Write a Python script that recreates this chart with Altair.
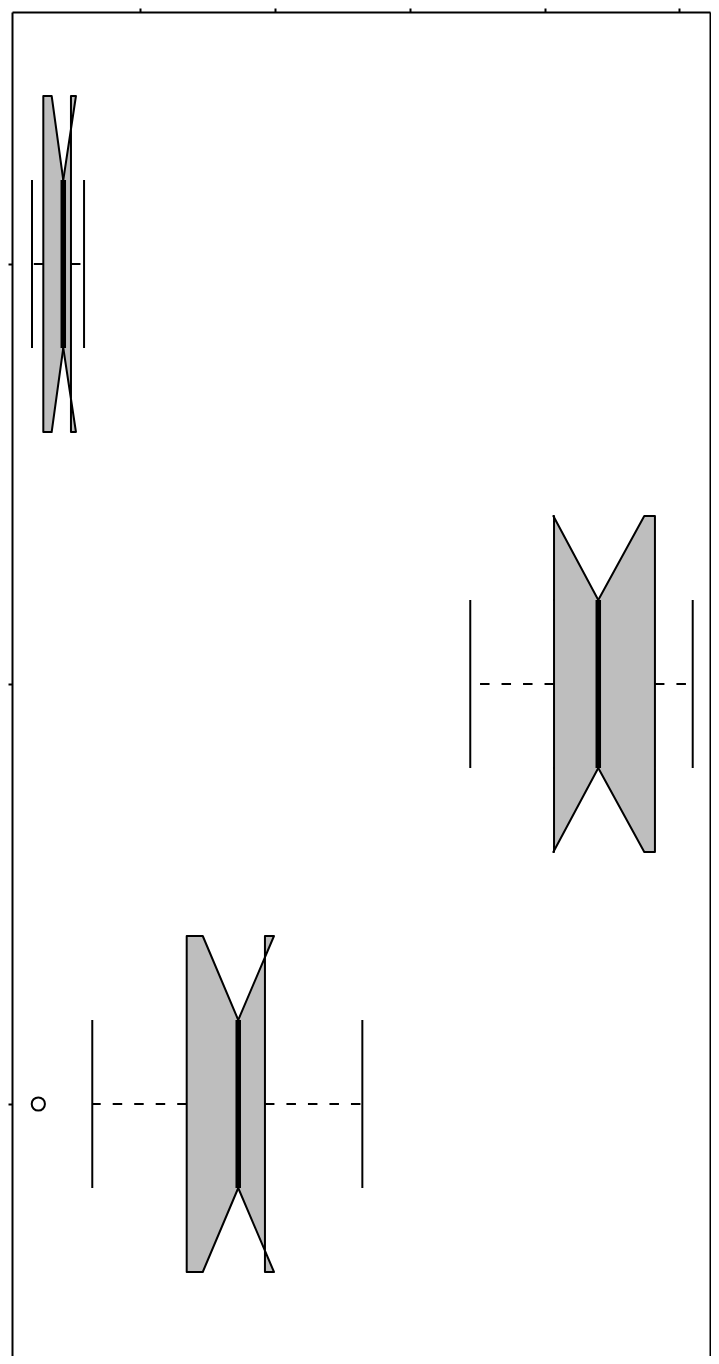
import altair as alt
import pandas as pd

# ---- data (value units match the top-axis ticks) ----
group_pos = [1, 2, 3]                      # top to bottom
whisker_lo = [2.00, 34.49, 6.47]
box_q1 = [2.84, 40.70, 13.47]
notch_lo = [3.46, 40.65, 14.66]
median = [4.32, 43.98, 17.29]
notch_hi = [5.26, 47.39, 19.94]
box_q3 = [4.89, 48.18, 19.27]
whisker_hi = [5.86, 50.98, 26.49]
outlier_group = [3]
outlier_value = [2.47]
x_ticks = [10, 20, 30, 40, 50]

BOX_HALF = 0.4
NOTCH_HALF = 0.2
STAPLE_HALF = 0.2

# ---- tables built from the arrays ----
poly_rows, whisk_rows, staple_rows, med_rows = [], [], [], []
for i, p in enumerate(group_pos):
    ys = [p - BOX_HALF, p - NOTCH_HALF, p + NOTCH_HALF, p + BOX_HALF]
    left_x = [notch_lo[i], median[i], median[i], notch_lo[i]]
    right_x = [notch_hi[i], median[i], median[i], notch_hi[i]]
    for k in range(4):
        poly_rows.append({"part": f"L{i}", "y": ys[k], "x": left_x[k], "x2": box_q1[i]})
    for k in range(4):
        poly_rows.append({"part": f"R{i}", "y": ys[k], "x": right_x[k], "x2": box_q3[i]})
    whisk_rows.append({"y": p, "x": box_q1[i], "x2": whisker_lo[i]})
    whisk_rows.append({"y": p, "x": box_q3[i], "x2": whisker_hi[i]})
    staple_rows.append({"x": whisker_lo[i], "y": p - STAPLE_HALF, "y2": p + STAPLE_HALF})
    staple_rows.append({"x": whisker_hi[i], "y": p - STAPLE_HALF, "y2": p + STAPLE_HALF})
    med_rows.append({"x": median[i], "y": p - NOTCH_HALF, "y2": p + NOTCH_HALF})

poly_df = pd.DataFrame(poly_rows)
whisk_df = pd.DataFrame(whisk_rows)
staple_df = pd.DataFrame(staple_rows)
med_df = pd.DataFrame(med_rows)
out_df = pd.DataFrame({"y": outlier_group, "x": outlier_value})

xscale = alt.Scale(domain=[0.519, 52.262], nice=False, zero=False)
yscale = alt.Scale(domain=[0.4, 3.6], nice=False, zero=False, reverse=True)

xaxis = alt.Axis(orient="top", values=x_ticks, labels=False, ticks=True, tickSize=4,
                 tickWidth=2, tickColor="black", domainColor="black", domainWidth=2,
                 grid=False, title=None)
yaxis_left = alt.Axis(orient="left", values=group_pos, labels=False, ticks=True, tickSize=4,
                      tickWidth=2, tickColor="black", domainColor="black", domainWidth=2,
                      grid=False, title=None)
yaxis_right = alt.Axis(orient="right", labels=False, ticks=False, domainColor="black",
                       domainWidth=2, grid=False, title=None)

boxes = alt.Chart(poly_df).mark_area(
    orient="horizontal", fill="#bebebe", stroke="black", strokeWidth=2, strokeJoin="round"
).encode(
    y=alt.Y("y:Q", scale=yscale, axis=yaxis_left),
    x=alt.X("x:Q", scale=xscale, axis=xaxis),
    x2="x2:Q",
    detail="part:N",
)

whiskers = alt.Chart(whisk_df).mark_rule(
    color="black", strokeWidth=2, strokeDash=[9.5, 12], strokeCap="butt"
).encode(
    x=alt.X("x:Q", scale=xscale, axis=xaxis),
    x2="x2:Q",
    y=alt.Y("y:Q", scale=yscale, axis=None),
)

staples = alt.Chart(staple_df).mark_rule(color="black", strokeWidth=2).encode(
    x=alt.X("x:Q", scale=xscale, axis=xaxis),
    y=alt.Y("y:Q", scale=yscale, axis=yaxis_right),
    y2="y2:Q",
)

medians = alt.Chart(med_df).mark_rule(color="black", strokeWidth=5.5, strokeCap="butt").encode(
    x=alt.X("x:Q", scale=xscale, axis=xaxis),
    y=alt.Y("y:Q", scale=yscale, axis=None),
    y2="y2:Q",
)

outliers = alt.Chart(out_df).mark_point(
    shape="circle", filled=False, size=175, strokeWidth=2, color="black", opacity=1
).encode(
    x=alt.X("x:Q", scale=xscale, axis=xaxis),
    y=alt.Y("y:Q", scale=yscale, axis=None),
)

chart = alt.layer(boxes, whiskers, staples, medians, outliers).resolve_axis(
    y="independent"
).properties(
    width=698, height=1344, autosize="none",
    padding={"left": 4, "top": 4, "right": 1, "bottom": 0},
).configure_view(stroke="transparent")

chart.save("out.html", embed_options={"renderer": "svg", "actions": False})
